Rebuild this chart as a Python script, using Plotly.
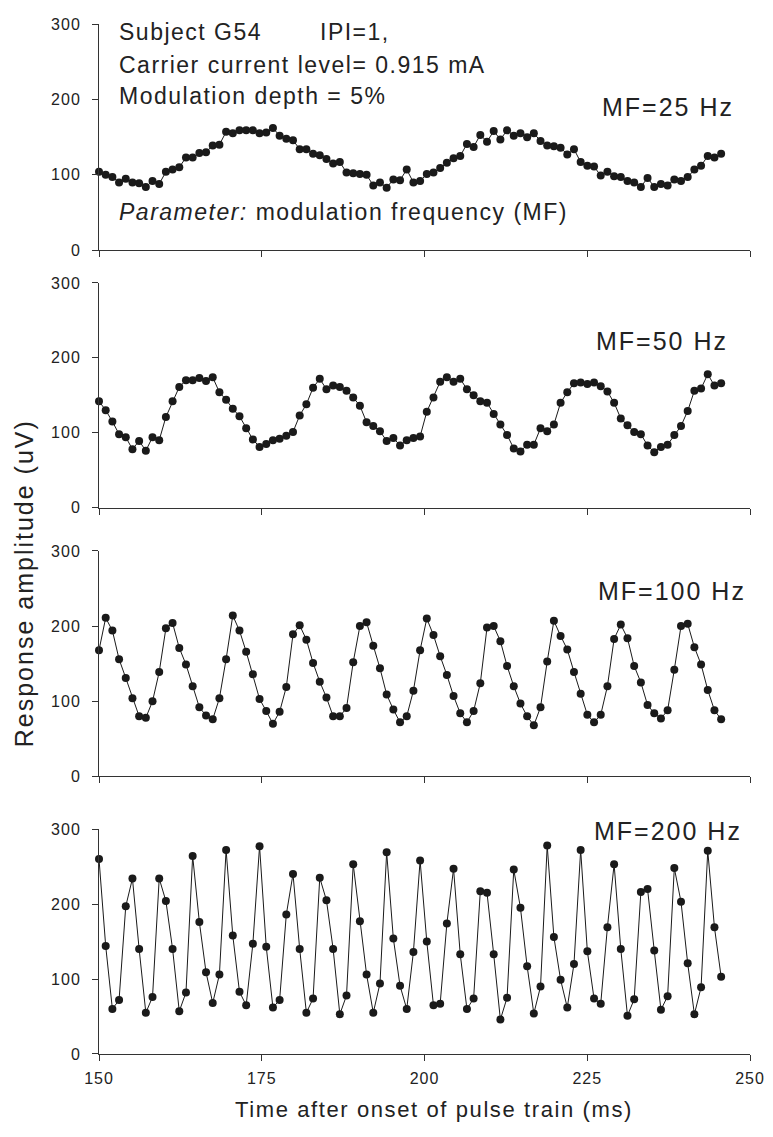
import plotly.graph_objects as go

# ---------------- data ----------------
sample_interval_ms = 1.0276
n_samples = 94
times = [150 + i * sample_interval_ms for i in range(n_samples)]

mf25 = [104, 100, 97, 90, 95, 90, 89, 84, 92, 88, 104, 107, 110, 123, 123, 129, 130, 139, 140, 157,
        155, 159, 159, 159, 155, 156, 162, 152, 148, 146, 134, 134, 128, 126, 121, 115, 117, 103, 102, 101,
        100, 86, 90, 83, 94, 93, 107, 90, 92, 101,
        103, 109, 116, 122, 125, 141, 137, 153, 144, 158, 147, 159, 152, 155, 150, 155, 145, 139, 138, 136,
        127, 134, 117, 112, 111, 99, 104, 98, 97, 92, 90, 84, 96, 84, 88, 86, 94, 92, 97, 107,
        112, 125, 123, 128]

mf50 = [142, 130, 115, 98, 94, 78, 89, 76, 94, 90, 121, 142, 161, 170, 170, 173, 169, 174, 154, 144,
        132, 122, 106, 91, 81, 85, 90, 92, 96, 101, 123, 138, 160, 172, 158, 163, 161, 156, 147, 136,
        114, 109, 102, 89, 93, 83, 90, 93, 95, 128,
        147, 168, 174, 168, 172, 158, 150, 142, 140, 125, 111, 97, 79, 75, 84, 84, 106, 102, 111, 140,
        154, 166, 167, 165, 167, 162, 155, 140, 119, 110, 101, 98, 83, 74, 81, 84, 97, 109, 129, 156,
        159, 178, 163, 166]

mf100 = [168, 211, 194, 156, 131, 104, 80, 78, 100, 139, 197, 204, 171, 149, 120, 92, 81, 76, 104, 156,
         214, 194, 166, 136, 103, 87, 70, 86, 119, 189, 201, 182, 151, 126, 105, 80, 80, 91, 152, 200,
         205, 174, 144, 109, 89, 72, 80, 114, 168, 210,
         188, 160, 135, 107, 84, 72, 87, 124, 198, 200, 180, 147, 120, 97, 80, 68, 92, 153, 207, 187,
         169, 139, 110, 82, 72, 82, 120, 183, 202, 184, 147, 125, 95, 84, 77, 88, 142, 200, 203, 172,
         149, 115, 88, 76]

mf200 = [260, 144, 60, 72, 197, 234, 140, 55, 76, 234, 204, 140, 57, 82, 264, 176, 109, 68, 106, 272,
         158, 83, 65, 147, 277, 143, 62, 72, 186, 240, 140, 55, 74, 235, 205, 140, 53, 78, 253, 177,
         106, 55, 94, 269, 154, 91, 60, 136, 258, 150,
         65, 67, 174, 247, 133, 60, 74, 217, 215, 133, 46, 75, 246, 195, 117, 54, 90, 278, 156, 99,
         62, 120, 272, 137, 74, 67, 169, 253, 140, 51, 73, 216, 220, 138, 59, 77, 248, 203, 121, 53,
         89, 271, 169, 103]

panel_labels = ["MF=25 Hz", "MF=50 Hz", "MF=100 Hz", "MF=200 Hz"]
series = [mf25, mf50, mf100, mf200]

x_ticks = [150, 175, 200, 225, 250]
y_ticks = [0, 100, 200, 300]

# ---------------- styling ----------------
FONT = "Liberation Sans, Arial, sans-serif"
INK = "#1a1a1a"
TXT = "#222222"
AX = "#333333"


def sp(text, ls):
    return f'<span style="letter-spacing:{ls}px">{text}</span>'


domains = [[0.7803, 1.0], [0.5305, 0.7486], [0.2695, 0.4884], [0.0, 0.2184]]

fig = go.Figure()
for i, ys in enumerate(series):
    k = "" if i == 0 else str(i + 1)
    fig.add_trace(go.Scatter(
        x=times, y=ys, mode="lines+markers",
        line=dict(color=INK, width=1),
        marker=dict(color=INK, size=8, line=dict(width=0)),
        xaxis="x" + k, yaxis="y" + k, cliponaxis=False, showlegend=False,
    ))

# page body has an 8px default margin -> margins compensate
layout = dict(
    width=765, height=1121,
    margin=dict(l=91, r=19, t=8, b=75),
    paper_bgcolor="white", plot_bgcolor="white",
    font=dict(family=FONT, color=TXT, size=16),
    showlegend=False,
)
for i in range(4):
    k = "" if i == 0 else str(i + 1)
    layout["xaxis" + k] = dict(
        range=[150, 250], domain=[0, 1], anchor="y" + k,
        showline=True, linecolor=AX, linewidth=1,
        ticks="outside", ticklen=6, tickwidth=1, tickcolor=AX,
        tickvals=x_ticks, ticktext=[sp(str(v), 1) for v in x_ticks],
        showticklabels=(i == 3), showgrid=False, zeroline=False,
        tickfont=dict(family=FONT, size=16, color=TXT), ticklabelstandoff=4,
    )
    layout["yaxis" + k] = dict(
        range=[0, 300], domain=domains[i], anchor="x" + k,
        showline=True, linecolor=AX, linewidth=1,
        ticks="outside", ticklen=6, tickwidth=1, tickcolor=AX,
        tickvals=y_ticks, ticktext=[sp(str(v), 1) for v in y_ticks],
        showgrid=False, zeroline=False,
        tickfont=dict(family=FONT, size=16, color=TXT), ticklabelstandoff=8,
    )
fig.update_layout(**layout)

ann = []
big = dict(family=FONT, size=23, color=TXT)
# header text in panel 1
ann.append(dict(x=152.7, y=289, xref="x", yref="y", text=sp("Subject G54", 1.5),
                xanchor="left", yanchor="middle", showarrow=False, font=big))
ann.append(dict(x=183.6, y=289, xref="x", yref="y", text=sp("IPI=1,", 1.5),
                xanchor="left", yanchor="middle", showarrow=False, font=big))
ann.append(dict(x=152.7, y=246, xref="x", yref="y", text=sp("Carrier current level= 0.915 mA", 1.5),
                xanchor="left", yanchor="middle", showarrow=False, font=big))
ann.append(dict(x=152.7, y=204, xref="x", yref="y", text=sp("Modulation depth = 5%", 1.5),
                xanchor="left", yanchor="middle", showarrow=False, font=big))
ann.append(dict(x=152.8, y=51, xref="x", yref="y",
                text=sp("<i>Parameter:</i> modulation frequency (MF)", 1.5),
                xanchor="left", yanchor="middle", showarrow=False, font=big))

# panel labels (x, y, xshift)
label_pos = [(247.9, 190, 0), (246.9, 223, 0), (250, 247, -2), (250, 298, -6)]
for i, (lab, (lx, ly, xs)) in enumerate(zip(panel_labels, label_pos)):
    k = "" if i == 0 else str(i + 1)
    ann.append(dict(x=lx, y=ly, xref="x" + k, yref="y" + k, text=sp(lab, 2),
                    xanchor="right", yanchor="middle", xshift=xs, showarrow=False,
                    font=dict(family=FONT, size=25, color=TXT)))

# axis titles
ann.append(dict(x=-0.116, y=0.4575, xref="paper", yref="paper",
                text=sp("Response amplitude (uV)", 2), textangle=-90,
                xanchor="center", yanchor="middle", showarrow=False,
                font=dict(family=FONT, size=25, color=TXT)))
ann.append(dict(x=0.5145, y=0, xref="paper", yref="paper",
                text=sp("Time after onset of pulse train (ms)", 1.6),
                xanchor="center", yanchor="middle", yshift=-55, showarrow=False,
                font=dict(family=FONT, size=22, color=TXT)))

fig.update_layout(annotations=ann)
fig.write_html("out.html")
